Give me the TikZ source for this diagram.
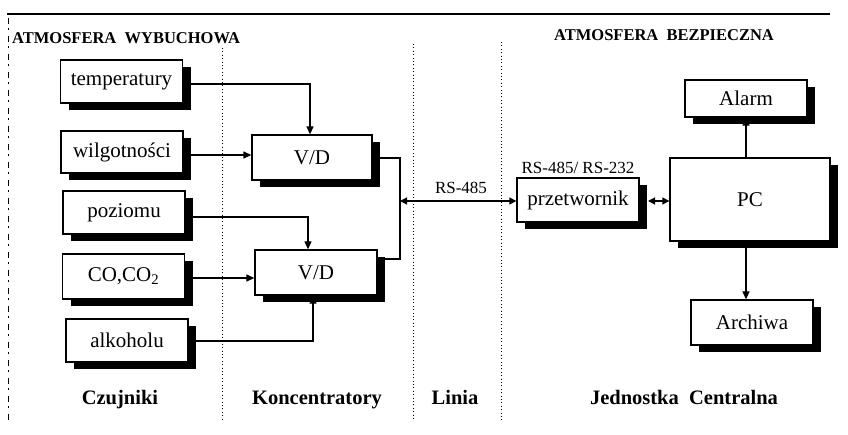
\documentclass[tikz,border=0pt]{standalone}
\usepackage{fontspec}
\setmainfont{Liberation Serif}
\usetikzlibrary{shadows,arrows.meta}
\begin{document}
\begin{tikzpicture}[x=1pt,y=-1pt,
  box/.style={draw=black,line width=1.3pt,fill=white,minimum width=#1,inner sep=0pt,
    font=\fontsize{21}{23}\selectfont,
    general shadow={fill=black,shadow xshift=8pt,shadow yshift=-7pt}},
  box/.default=122pt,
  conn/.style={line width=1.2pt},
  arr/.style={conn,-{Triangle[length=8pt,width=7pt]}},
  barr/.style={conn,{Triangle[length=7pt,width=7pt]}-{Triangle[length=7pt,width=7pt]}},
  sep/.style={line width=0.8pt,dash pattern=on 0.8pt off 2.6pt},
  head/.style={font=\fontsize{16.5}{18}\selectfont\bfseries,inner sep=0pt},
  foot/.style={font=\fontsize{20.5}{22}\selectfont\bfseries,anchor=base,inner sep=0pt},
  lab/.style={font=\fontsize{17}{19}\selectfont}]
\useasboundingbox (0,0) rectangle (848,434);
% frame lines
\draw[line width=1.2pt] (7,14) -- (830,14);
\draw[line width=0.8pt,dash pattern=on 6pt off 4pt on 2pt off 6pt] (8,18) -- (8,420);
% separators
\draw[sep] (222,48) -- (222,420);
\draw[sep] (413,44) -- (413,420);
\draw[sep] (501,42) -- (501,420);
% headings
\node[head,anchor=base west] (h1) at (12,43) {ATMOSFERA\ \ WYBUCHOWA};
\node[head,anchor=base] (h2) at (664,40) {ATMOSFERA\ \ BEZPIECZNA};
% sensors
\node[box,minimum height=43pt] (temp) at (121.5,81.5) {temperatury};
\node[box,minimum height=42pt] (wilg) at (122,152) {wilgotności};
\node[box,minimum height=43pt] (poz) at (124,212.5) {poziomu};
\node[box,minimum height=45pt] (co) at (123.5,276.5) {CO,CO\textsubscript{2}};
\node[box,minimum height=43pt] (alk) at (127,340.5) {alkoholu};
% concentrators
\node[box=120pt,minimum height=45pt] (vd1) at (312,157.5) {V/D};
\node[box=122pt,minimum height=45pt] (vd2) at (316,272.5) {V/D};
% central unit
\node[box=122pt,minimum height=44pt] (prz) at (578,200) {przetwornik};
\node[box=160pt,minimum height=83pt] (pc) at (750,199.5) {PC};
\node[box=122pt,minimum height=37pt] (alarm) at (746,98.5) {Alarm};
\node[box=122pt,minimum height=45pt] (arch) at (752,322.5) {Archiwa};
% labels
\node[lab] (rs1) at (461,188) {RS-485};
\node[lab] (rs2) at (578,168) {RS-485/ RS-232};
% footers
\node[foot] (f1) at (120,404) {Czujniki};
\node[foot] (f2) at (317,404) {Koncentratory};
\node[foot] (f3) at (455,404) {Linia};
\node[foot] (f4) at (684,404) {Jednostka\ \ Centralna};
% coordinates
\coordinate (b1) at (400,158);
\coordinate (b2) at (400,259);
\coordinate (b3) at (400,201);
\coordinate (t1) at (310,84);
\coordinate (p1) at (308,217);
\coordinate (a1) at (313,341);
\coordinate (pl) at (648,201);
% connectors
\draw[arr] (temp.east |- t1) -- (t1) -- (t1 |- vd1.north);
\draw[arr] ([yshift=-3pt]wilg.east) -- ([yshift=-3pt]wilg.east -| vd1.west);
\draw[arr] (poz.east |- p1) -- (p1) -- (p1 |- vd2.north);
\draw[arr] ([yshift=-1.5pt]co.east) -- ([yshift=-1.5pt]co.east -| vd2.west);
\draw[arr] (alk.east |- a1) -- (a1) -- (a1 |- vd2.south);
\draw[conn] (vd1.east |- b1) -- (b1) -- (b2) -- (vd2.east |- b2);
\draw[barr] (b3) -- (b3 -| prz.west);
\draw[barr] (pl) -- (pl -| pc.west);
\draw[arr] (alarm.south |- pc.north) -- (alarm.south);
\draw[arr] (alarm.south |- pc.south) -- (alarm.south |- arch.north);
\end{tikzpicture}
\end{document}
